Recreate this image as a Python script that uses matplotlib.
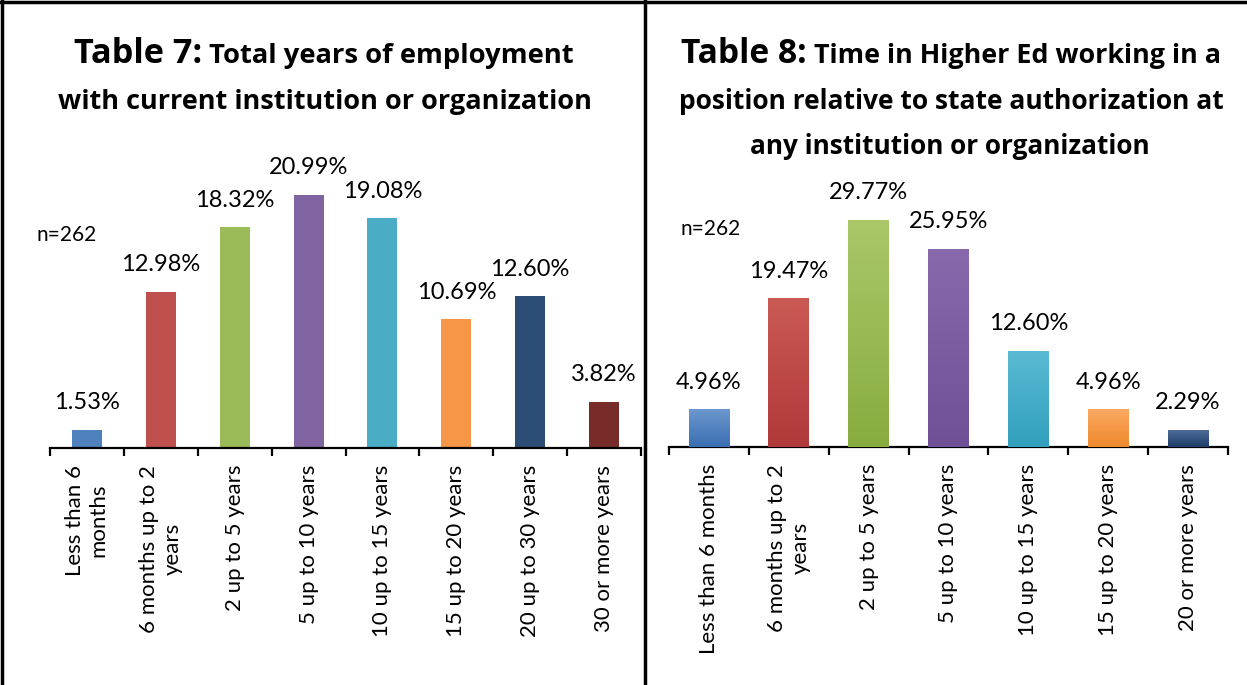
import matplotlib
matplotlib.use("Agg")
import matplotlib.pyplot as plt
import numpy as np
from matplotlib.colors import LinearSegmentedColormap

plt.rcParams['font.family'] = ['Lato', 'DejaVu Sans']

# Table 7 data
cats7 = ["Less than 6\nmonths", "6 months up to 2\nyears", "2 up to 5 years",
         "5 up to 10 years", "10 up to 15 years", "15 up to 20 years",
         "20 up to 30 years", "30 or more years"]
vals7 = [1.53, 12.98, 18.32, 20.99, 19.08, 10.69, 12.60, 3.82]
cols7 = ['#4F81BD', '#C0504D', '#9BBB59', '#8064A2', '#4BACC6', '#F79646',
         '#2C4D75', '#772C2A']

# Table 8 data
cats8 = ["Less than 6 months", "6 months up to 2\nyears", "2 up to 5 years",
         "5 up to 10 years", "10 up to 15 years", "15 up to 20 years",
         "20 or more years"]
vals8 = [4.96, 19.47, 29.77, 25.95, 12.60, 4.96, 2.29]
top8 = ['#6C97CE', '#CB5A55', '#AAC76A', '#8869AC', '#5BBAD3', '#FCA962', '#4F6E99']
bot8 = ['#3A6EB1', '#B0393A', '#88AC3F', '#6F4F96', '#31A0BD', '#EE8A2D', '#1E3D69']

W, H = 1247, 685
fig = plt.figure(figsize=(W / 100, H / 100), dpi=100)


def px_axes(x0, x1, ytop, ybase):
    return fig.add_axes([x0 / W, (H - ybase) / H, (x1 - x0) / W, (ybase - ytop) / H])


def style_axes(ax, n, labels):
    ax.set_xlim(-0.5, n - 0.5)
    for s in ['top', 'right', 'left']:
        ax.spines[s].set_visible(False)
    ax.spines['bottom'].set_linewidth(1.6)
    ax.spines['bottom'].set_color('black')
    ax.set_yticks([])
    ax.set_xticks(np.arange(n))
    ax.set_xticklabels(labels, rotation=90, fontsize=16, multialignment='center')
    ax.tick_params(axis='x', which='major', length=0, pad=12)
    ax.set_xticks(np.arange(n + 1) - 0.5, minor=True)
    ax.tick_params(axis='x', which='minor', length=6, width=1.6, direction='out')


# left chart
ax1 = px_axes(50, 641, 170, 448)
ax1.bar(np.arange(len(vals7)), vals7, width=0.406, color=cols7, zorder=2)
ax1.set_ylim(0, 278 / 12.05)
style_axes(ax1, len(vals7), cats7)
for i, v in enumerate(vals7):
    ax1.annotate(f"{v:.2f}%", (i, v), xytext=(0, 19.5), textcoords='offset points',
                 ha='center', va='center', fontsize=17)

# right chart with gradient bars
ax2 = px_axes(669, 1228, 170, 447)
bars = ax2.bar(np.arange(len(vals8)), vals8, width=0.51, color=bot8, zorder=2)
grad = np.linspace(0, 1, 100).reshape(-1, 1)
for b, c0, c1 in zip(bars, bot8, top8):
    cm = LinearSegmentedColormap.from_list('g', [c0, c1])
    x0 = b.get_x()
    im = ax2.imshow(grad, extent=[x0, x0 + b.get_width(), 0, b.get_height()],
                    origin='lower', aspect='auto', cmap=cm, zorder=3)
    im.set_clip_path(b)
ax2.set_ylim(0, 277 / 7.63)
style_axes(ax2, len(vals8), cats8)
for i, v in enumerate(vals8):
    ax2.annotate(f"{v:.2f}%", (i, v), xytext=(0, 19.5), textcoords='offset points',
                 ha='center', va='center', fontsize=17)

fig.text(36 / W, 1 - 235 / H, "n=262", fontsize=15, va='center', ha='left')
fig.text(681 / W, 1 - 229 / H, "n=262", fontsize=15, va='center', ha='left')

# titles made of runs with different sizes, scaled to the width they take
renderer = fig.canvas.get_renderer()


def title_line(xc, ybase, runs, width):
    texts = [fig.text(0, 1 - ybase / H, s, fontsize=size, fontweight='bold',
                      family='Open Sans', va='baseline', ha='left') for s, size in runs]
    total = sum(t.get_window_extent(renderer).width for t in texts)
    for t, (s, size) in zip(texts, runs):
        t.set_fontsize(size * width / total)
    widths = [t.get_window_extent(renderer).width for t in texts]
    x = xc - sum(widths) / 2
    for t, w in zip(texts, widths):
        t.set_x(x / W)
        x += w


title_line(324, 63, [("Table 7:", 20), (" Total years of employment", 16)], 500)
title_line(325, 109, [("with current institution or organization", 16)], 534)
title_line(951, 63, [("Table 8:", 20), (" Time in Higher Ed working in a", 16)], 542)
title_line(951, 109, [("position relative to state authorization at", 16)], 547)
title_line(950, 154, [("any institution or organization", 16)], 400)

# frame lines
for x in [2, 645]:
    fig.add_artist(plt.Line2D([x / W, x / W], [0, 1], color='black', lw=2.5))
fig.add_artist(plt.Line2D([0, 1], [1 - 2 / H, 1 - 2 / H], color='black', lw=2.5))

fig.savefig("out.png", dpi=100)
